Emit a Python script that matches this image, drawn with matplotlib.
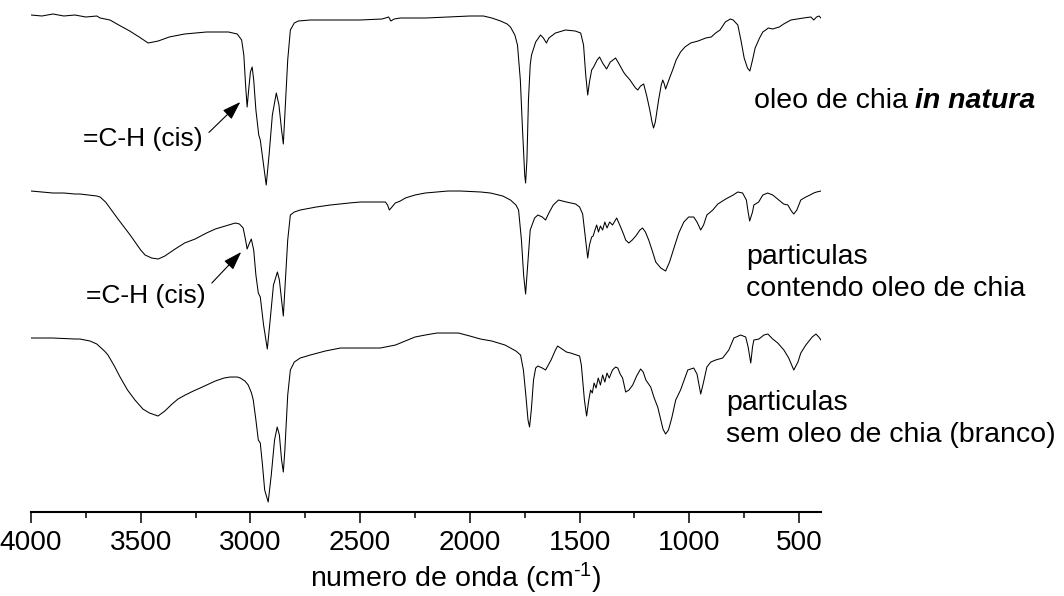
#!/usr/bin/env python3
# -*- coding: utf-8 -*-

import numpy as np
import matplotlib
matplotlib.use("Agg")
import matplotlib.pyplot as plt
from matplotlib.ticker import MultipleLocator

plt.rcParams['font.family'] = ['Liberation Sans', 'DejaVu Sans']
plt.rcParams['mathtext.fontset'] = 'custom'
plt.rcParams['mathtext.rm'] = 'Liberation Sans'
plt.rcParams['mathtext.it'] = 'Liberation Sans:italic'

# espectros FTIR empilhados (transmitancia, u.a.)
wn_natura = [4000, 3950, 3900, 3850, 3800, 3750, 3700, 3685, 3640, 3600, 3550, 3500, 3466, 3420,
             3370, 3300, 3200, 3100, 3060, 3040, 3030, 3022, 3015, 3008, 3000, 2992, 2985, 2975,
             2962, 2955, 2940, 2928, 2915, 2900, 2882, 2870, 2858, 2850, 2842, 2830, 2818, 2800,
             2782, 2727, 2600, 2500, 2400, 2370, 2360, 2345, 2317, 2200, 2100, 2000, 1938, 1900,
             1860, 1830, 1815, 1795, 1783, 1770, 1760, 1750, 1746, 1740, 1733, 1725, 1719, 1700,
             1678, 1665, 1651, 1640, 1610, 1564, 1520, 1495, 1482, 1472, 1463, 1455, 1445, 1436,
             1420, 1409, 1395, 1377, 1360, 1336, 1320, 1300, 1290, 1270, 1258, 1245, 1235, 1222,
             1208, 1195, 1180, 1170, 1163, 1155, 1140, 1128, 1121, 1114, 1108, 1100, 1090, 1076,
             1060, 1040, 1020, 994, 960, 925, 900, 880, 860, 836, 813, 800, 779, 765, 750, 735,
             724, 712, 700, 680, 665, 652, 640, 620, 606, 590, 570, 537, 510, 480, 446, 433, 420,
             409, 400]
t_natura = [497, 496, 498, 496, 497, 495, 496, 494, 492, 487, 481, 474, 469, 471,
            475, 478, 480, 480, 478, 472, 457, 427, 405, 422, 440, 445, 432, 402,
            377, 372, 347, 327, 357, 397, 419, 407, 382, 368, 402, 452, 482, 489,
            491, 492, 492, 492, 493, 495, 491, 493, 494, 494, 495, 496, 496, 494,
            491, 488, 485, 477, 467, 432, 382, 337, 329, 352, 412, 447, 457, 470,
            477, 474, 469, 474, 479, 482, 481, 479, 467, 437, 417, 430, 442, 445,
            452, 455, 449, 443, 450, 454, 448, 440, 437, 432, 428, 424, 422, 426,
            428, 417, 402, 390, 384, 390, 412, 427, 432, 428, 423, 428, 434, 442,
            452, 460, 465, 469, 471, 474, 475, 479, 482, 490, 493, 492, 487, 472, 454, 444,
            441, 452, 464, 474, 480, 482, 484, 483, 484, 485, 488, 492, 493, 494, 495, 492, 495,
            496, 494]

wn_contendo = [4000, 3950, 3900, 3850, 3800, 3777, 3740, 3700, 3685, 3660, 3640, 3600, 3548, 3500,
               3480, 3450, 3420, 3390, 3343, 3300, 3252, 3200, 3160, 3100, 3069, 3050, 3033, 3022,
               3015, 3008, 2996, 2985, 2975, 2964, 2955, 2940, 2923, 2910, 2895, 2877, 2868, 2858,
               2850, 2843, 2830, 2818, 2800, 2773, 2700, 2636, 2550, 2499, 2420, 2385, 2375, 2367,
               2355, 2340, 2317, 2294, 2250, 2203, 2100, 2043, 1950, 1906, 1850, 1815, 1790, 1778,
               1765, 1755, 1746, 1738, 1725, 1705, 1690, 1670, 1655, 1640, 1620, 1596, 1560, 1518,
               1500, 1486, 1475, 1463, 1455, 1445, 1438, 1430, 1422, 1414, 1405, 1395, 1385, 1375,
               1363, 1350, 1331, 1315, 1300, 1290, 1276, 1260, 1244, 1225, 1213, 1200, 1185, 1170,
               1153, 1130, 1108, 1090, 1070, 1048, 1025, 1003, 980, 965, 948, 935, 920, 893, 870,
               834, 800, 779, 757, 740, 732, 725, 712, 706, 684, 665, 643, 620, 592, 570, 551, 535,
               524, 510, 492, 469, 450, 433, 420, 400]
t_contendo = [321, 320, 319, 319, 318, 318, 317, 316, 315, 310, 304, 292, 277, 262,
              257, 254, 253, 256, 263, 269, 273, 279, 283, 287, 289, 288, 284, 272,
              263, 267, 273, 262, 237, 219, 215, 187, 163, 192, 227, 240, 232, 212,
              196, 222, 272, 297, 300, 302, 305, 307, 309, 310, 310, 310, 307, 302,
              305, 309, 311, 314, 317, 319, 321, 321, 320, 319, 316, 312, 307, 302,
              272, 237, 218, 242, 282, 294, 297, 295, 292, 299, 307, 312, 310, 308,
              305, 298, 277, 254, 267, 275, 276, 282, 287, 280, 286, 282, 290, 284,
              290, 287, 294, 286, 278, 272, 269, 272, 276, 282, 284, 280, 272, 262,
              250, 244, 241, 250, 264, 279, 290, 295, 295, 290, 282, 287, 297, 302, 308,
              313, 317, 320, 319, 312, 300, 291, 300, 307, 310, 317, 319, 317, 312, 308, 307, 301,
              298, 302, 312, 315, 317, 319, 320, 321]

wn_branco = [4000, 3900, 3800, 3777, 3731, 3700, 3685, 3665, 3649, 3620, 3594, 3560, 3526, 3490,
             3460, 3421, 3390, 3357, 3330, 3297, 3260, 3229, 3190, 3160, 3120, 3092, 3060, 3046,
             3025, 3010, 2995, 2987, 2975, 2964, 2955, 2945, 2935, 2919, 2905, 2890, 2878, 2868,
             2858, 2850, 2843, 2830, 2818, 2800, 2773, 2727, 2659, 2590, 2500, 2408, 2339, 2317,
             2250, 2203, 2150, 2111, 2052, 2000, 1952, 1900, 1870, 1840, 1815, 1790, 1769, 1756,
             1745, 1735, 1728, 1720, 1710, 1700, 1690, 1670, 1655, 1630, 1610, 1600, 1580, 1560,
             1541, 1500, 1492, 1486, 1478, 1468, 1458, 1450, 1442, 1434, 1425, 1415, 1405, 1395,
             1385, 1375, 1365, 1350, 1336, 1326, 1315, 1304, 1290, 1275, 1258, 1240, 1222, 1210,
             1198, 1176, 1160, 1144, 1120, 1108, 1095, 1080, 1062, 1040, 1020, 1007, 980, 965,
             948, 935, 920, 902, 880, 848, 820, 797, 766, 743, 732, 720, 712, 706, 683, 660, 642,
             620, 597, 569, 547, 524, 505, 492, 469, 440, 423, 410, 400]
t_branco = [174, 174, 173, 173, 171, 168, 165, 161, 157, 146, 135, 122, 112, 103,
            99, 96, 101, 108, 113, 117, 121, 124, 128, 131, 134, 135, 135, 134,
            131, 127, 119, 112, 92, 72, 69, 47, 22, 10, 37, 72, 85, 77,
            52, 40, 62, 117, 142, 150, 154, 157, 161, 164, 164, 164, 167, 169,
            175, 177, 179, 179, 179, 176, 173, 171, 169, 167, 164, 161, 157, 142,
            117, 92, 85, 102, 132, 144, 146, 144, 142, 152, 162, 166, 163, 160,
            159, 156, 147, 132, 112, 96, 112, 122, 119, 129, 124, 134, 127, 137,
            130, 139, 134, 142, 145, 144, 138, 134, 120, 122, 127, 136, 143, 140,
            132, 125, 114, 105, 83, 78, 82, 94, 112, 122, 134, 142, 144, 138,
            118, 130, 145, 150, 152, 154, 162, 174, 177, 175, 165, 149, 165, 172, 173, 177, 178,
            173, 169, 162, 154, 142, 150, 159, 167, 175, 178, 175, 172]

x_ticks = [4000, 3500, 3000, 2500, 2000, 1500, 1000, 500]


def create_graph():
    fig = plt.figure(figsize=(10.64, 5.96), dpi=100)
    ax = fig.add_axes([0.0291, 0.1409, 0.7425, 0.8591])

    for wn, t in [(wn_natura, t_natura), (wn_contendo, t_contendo), (wn_branco, t_branco)]:
        ax.plot(wn, t, color="black", lw=0.75)

    ax.set_xlim(4000, 400)
    ax.set_ylim(0, 512)

    for s in ["left", "right", "top"]:
        ax.spines[s].set_visible(False)
    ax.spines["bottom"].set_linewidth(1.5)
    ax.set_yticks([])
    ax.set_xticks(x_ticks)
    ax.xaxis.set_minor_locator(MultipleLocator(250))
    ax.tick_params(axis="x", which="major", length=7.9, width=1.1, labelsize=20.2, pad=5)
    ax.tick_params(axis="x", which="minor", length=4.3, width=1.1)

    ax.set_xlabel(r"numero de onda (cm$^{\text{-1}}$)", fontsize=20.5)
    ax.xaxis.label.set_va("baseline")
    ax.xaxis.set_label_coords(0.538, -0.1465)

    t1 = ax.text(706, 404, "oleo de chia", fontsize=20.5, va="baseline")
    ax.annotate("in natura", xy=(1, 0), xycoords=t1, xytext=(5.5, 0),
                textcoords="offset points", fontsize=20.5, va="bottom",
                fontweight="bold", fontstyle="italic")
    # va baseline -> alinhado pela ultima linha
    ax.text(743, 216, "particulas\ncontendo oleo de chia", fontsize=20.5,
            va="baseline", linespacing=1.32)
    ax.text(834, 70, "particulas\nsem oleo de chia (branco)", fontsize=20.5,
            va="baseline", linespacing=1.32)

    arrow = dict(arrowstyle="-|>,head_length=0.6,head_width=0.2", color="black",
                 lw=0.8, shrinkA=4, shrinkB=0)
    ax.annotate("=C-H (cis)", xy=(3046, 410), xytext=(3220, 366), fontsize=19,
                ha="right", va="baseline",
                arrowprops=dict(arrow, relpos=(1, 0.5)))
    ax.annotate("=C-H (cis)", xy=(3042, 260), xytext=(3206, 209), fontsize=19,
                ha="right", va="baseline",
                arrowprops=dict(arrow, relpos=(1, 0.75)))

    fig.savefig("out.png", dpi=100)


def main():
    create_graph()


if __name__ == '__main__':
    main()
